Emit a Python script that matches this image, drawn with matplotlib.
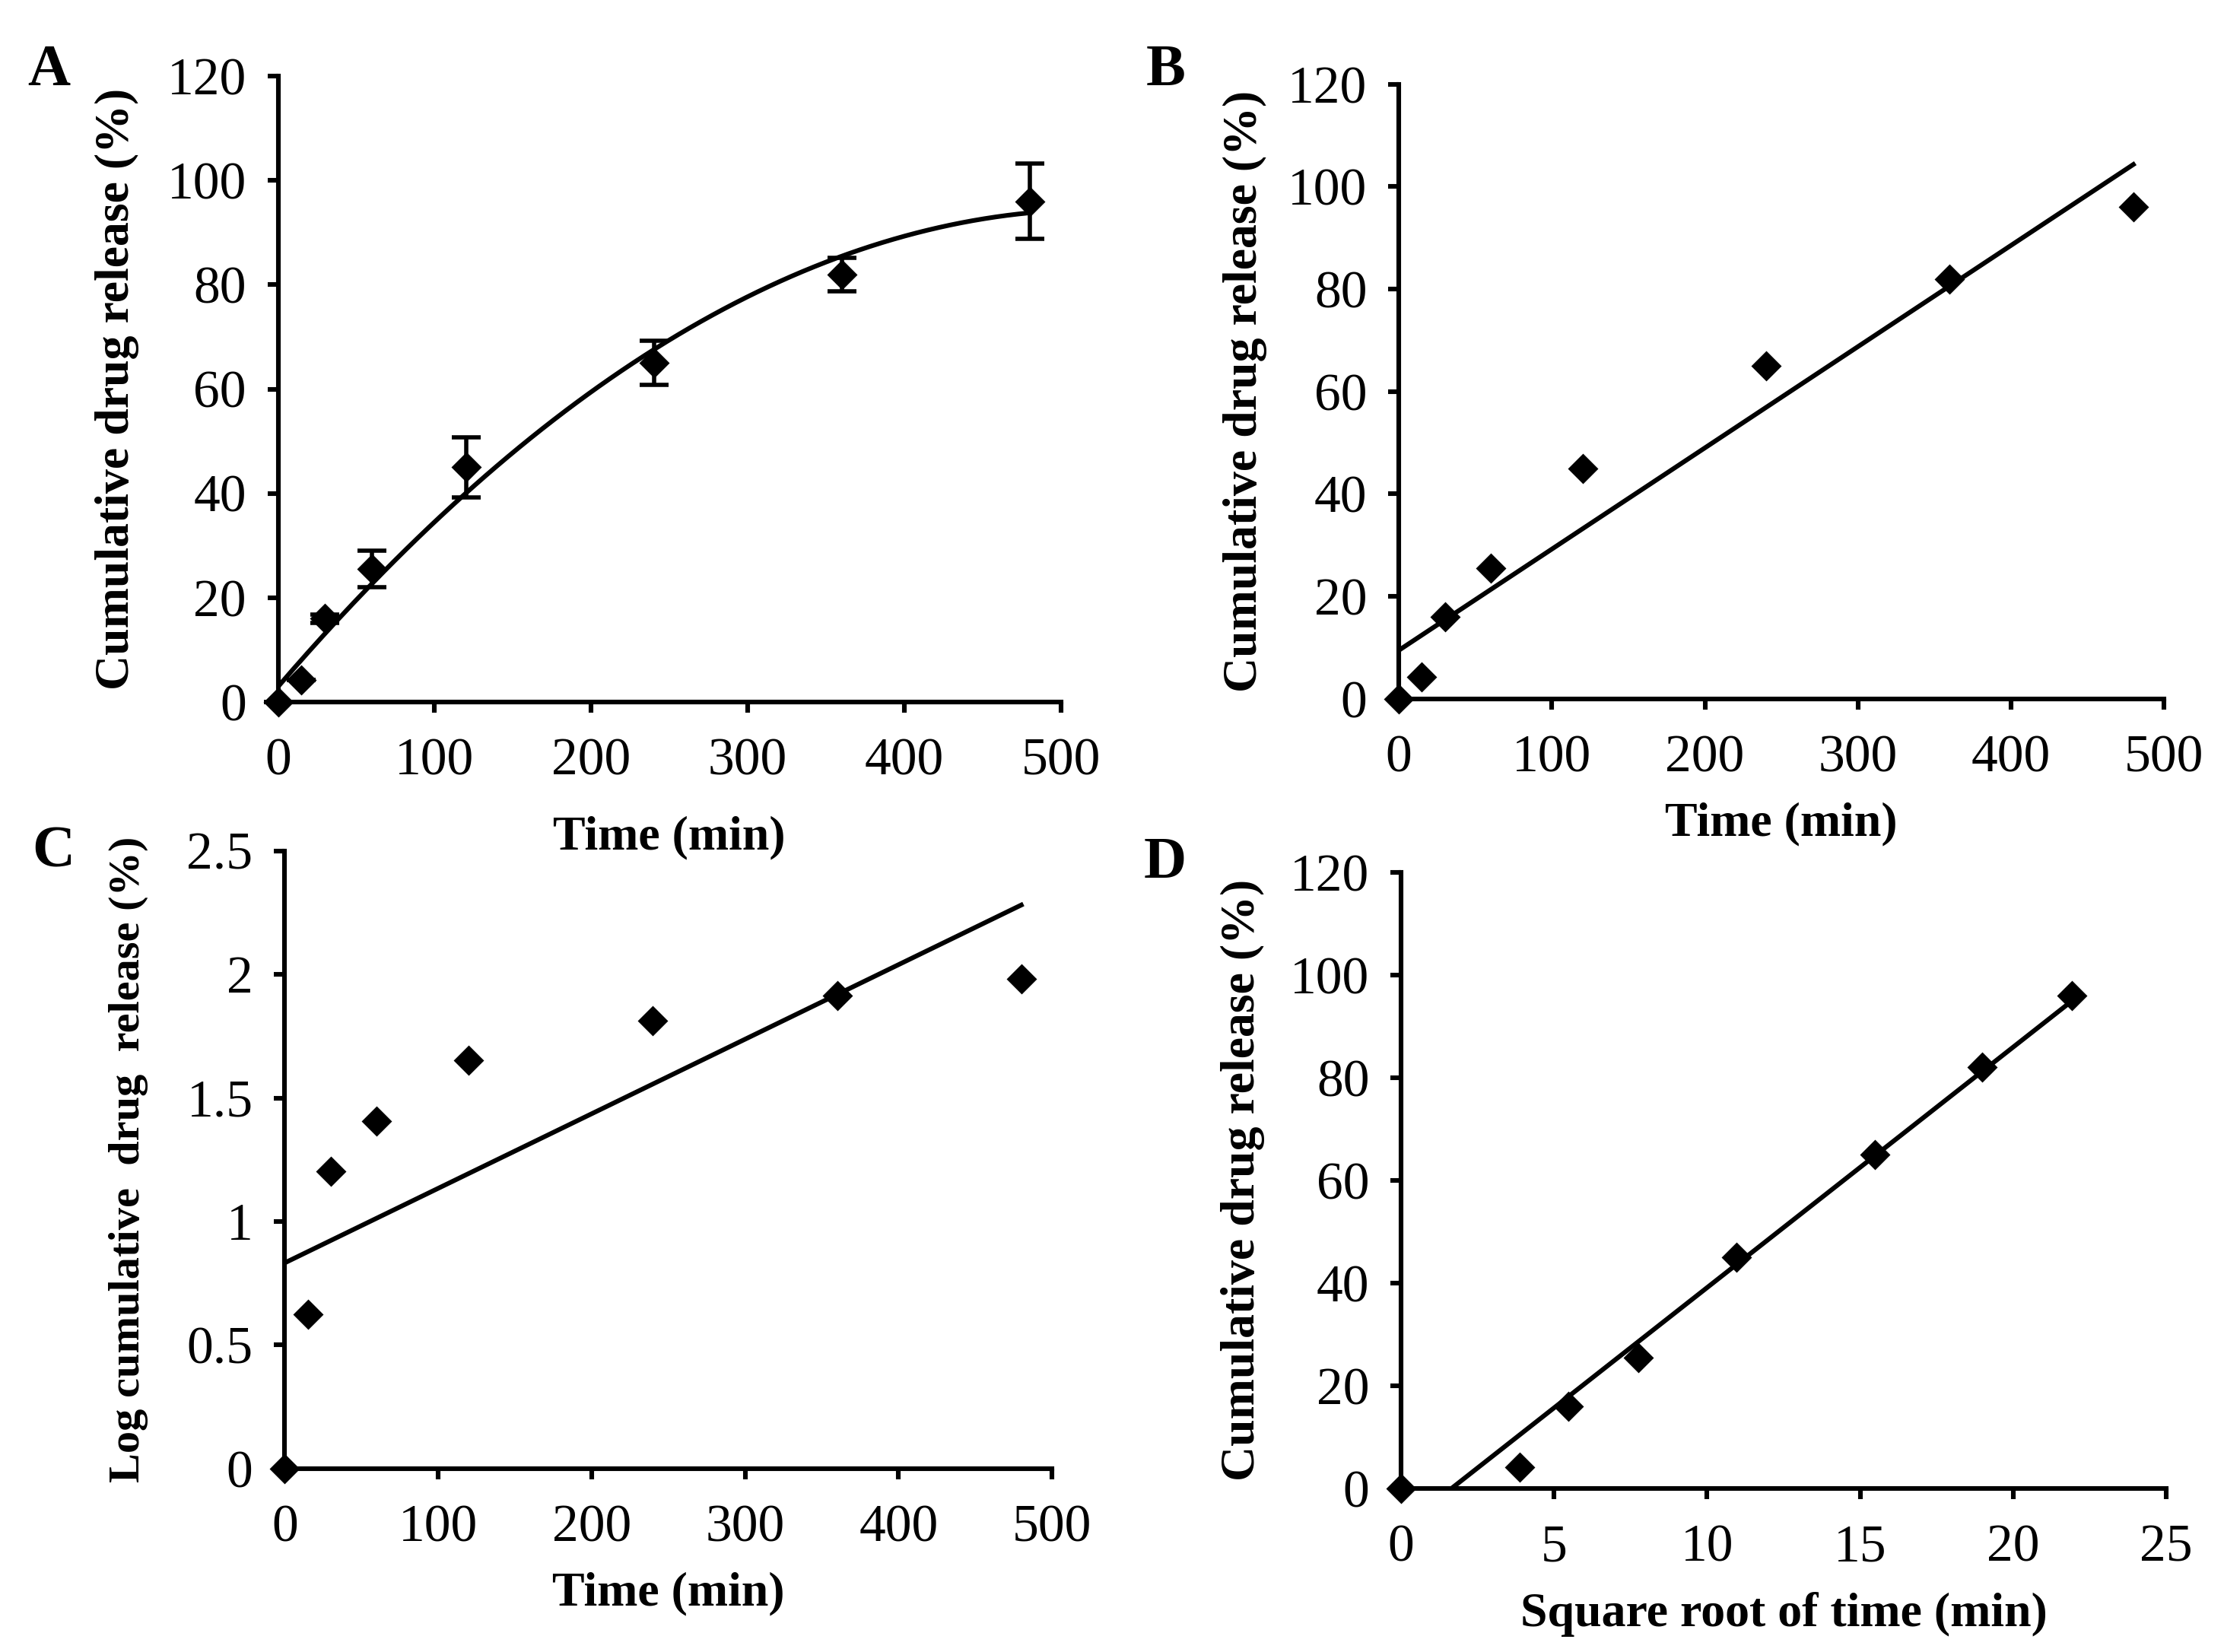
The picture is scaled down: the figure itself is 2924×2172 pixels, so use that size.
import matplotlib
matplotlib.use("Agg")
import matplotlib.pyplot as plt
import numpy as np
from matplotlib.ticker import FuncFormatter

plt.rcParams['font.family'] = ['Liberation Serif', 'DejaVu Serif']

# release data
time_min = [0, 15, 30, 60, 120, 240, 360, 480]
release = [0, 4.2, 16.0, 25.5, 45.0, 65.0, 82.0, 96.0]
release_sd = [0, 0.0, 0.8, 3.5, 5.7, 4.2, 3.2, 7.2]

t = np.array(time_min, dtype=float)
r = np.array(release, dtype=float)
log_r = np.array([np.log10(v) if v > 0 else 0.0 for v in release])
sqrt_t = np.sqrt(t)

fig = plt.figure(figsize=(14.62, 10.86), dpi=200)

axA = fig.add_axes([0.125, 0.575, 0.352, 0.379])
axB = fig.add_axes([0.629, 0.577, 0.344, 0.372])
axC = fig.add_axes([0.128, 0.111, 0.345, 0.374])
axD = fig.add_axes([0.630, 0.099, 0.344, 0.373])

tick_fs = 25
lab_fs = 23
lw = 2.2
ms = 9


def style(ax, xlim, ylim, xstep, ystep):
    ax.patch.set_visible(False)
    ax.set_xlim(*xlim)
    ax.set_ylim(*ylim)
    ax.set_xticks(np.arange(xlim[0], xlim[1] + xstep / 2, xstep))
    ax.set_yticks(np.arange(ylim[0], ylim[1] + ystep / 2, ystep))
    ax.yaxis.set_major_formatter(FuncFormatter(lambda v, p: '%g' % v))
    ax.xaxis.set_major_formatter(FuncFormatter(lambda v, p: '%g' % v))
    for s in ['top', 'right']:
        ax.spines[s].set_visible(False)
    for s in ['left', 'bottom']:
        ax.spines[s].set_linewidth(2.2)
    ax.tick_params(axis='both', direction='out', length=5, width=2.2,
                   labelsize=tick_fs)
    ax.tick_params(axis='x', pad=12)
    ax.tick_params(axis='y', pad=10)


# A: release with polynomial fit
style(axA, (0, 500), (0, 120), 100, 20)
cA = np.polyfit(t, r, 2)
xs = np.linspace(0, 480, 200)
axA.plot(xs, np.polyval(cA, xs), color='black', lw=lw)
axA.errorbar(t, r, yerr=release_sd, fmt='D', color='black', ms=ms,
             capsize=7, elinewidth=2.0, capthick=2.0, clip_on=False)
axA.set_xlabel('Time (min)', fontsize=lab_fs, fontweight='bold', labelpad=14)
axA.set_ylabel('Cumulative drug release (%)', fontsize=lab_fs,
               fontweight='bold', labelpad=13)

# B: zero order
style(axB, (0, 500), (0, 120), 100, 20)
cB = np.polyfit(t, r, 1)
xs = np.array([0, 480])
axB.plot(xs, np.polyval(cB, xs), color='black', lw=lw)
axB.plot(t, r, 'D', color='black', ms=ms, clip_on=False)
axB.set_xlabel('Time (min)', fontsize=lab_fs, fontweight='bold', labelpad=9)
axB.set_ylabel('Cumulative drug release (%)', fontsize=lab_fs,
               fontweight='bold', labelpad=10)

# C: first order
style(axC, (0, 500), (0, 2.5), 100, 0.5)
cC = np.polyfit(t, log_r, 1)
axC.plot(xs, np.polyval(cC, xs), color='black', lw=lw)
axC.plot(t, log_r, 'D', color='black', ms=ms, clip_on=False)
axC.set_xlabel('Time (min)', fontsize=lab_fs, fontweight='bold', labelpad=9)
axC.set_ylabel('Log cumulative  drug  release (%)', fontsize=21,
               fontweight='bold', labelpad=18)

# D: Higuchi
style(axD, (0, 25), (0, 120), 5, 20)
cD = np.polyfit(sqrt_t, r, 1)
xs2 = np.array([0, sqrt_t.max()])
axD.plot(xs2, np.polyval(cD, xs2), color='black', lw=lw)
axD.plot(sqrt_t, r, 'D', color='black', ms=ms, clip_on=False)
axD.set_xlabel('Square root of time (min)', fontsize=lab_fs,
               fontweight='bold', labelpad=9)
axD.set_ylabel('Cumulative drug release (%)', fontsize=lab_fs,
               fontweight='bold', labelpad=12)

for lbl, x, y in [('A', 0.022, 0.957), ('B', 0.524, 0.957),
                  ('C', 0.024, 0.484), ('D', 0.524, 0.477)]:
    fig.text(x, y, lbl, fontsize=28, fontweight='bold', ha='center',
             va='center')

fig.savefig('out.png', dpi=200, facecolor='white')
